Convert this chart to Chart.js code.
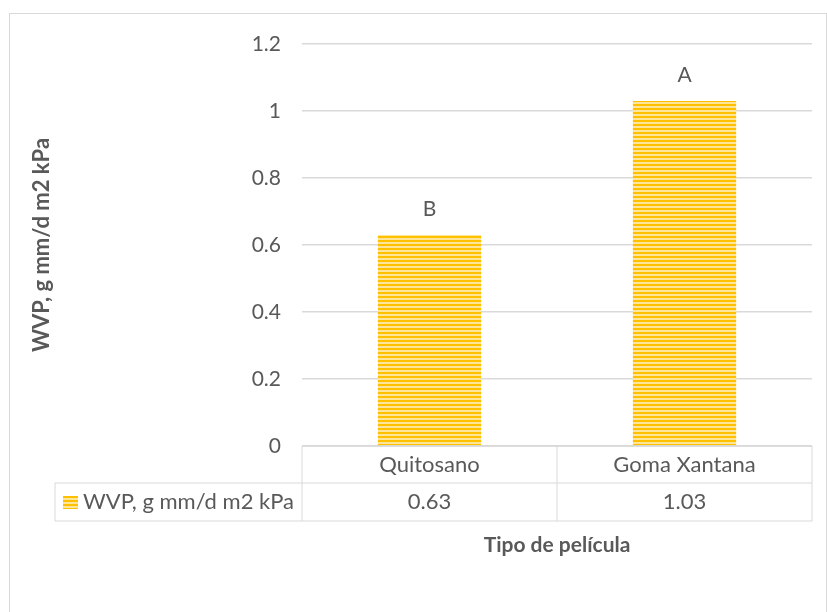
<!DOCTYPE html>
<html>
<head>
<meta charset="utf-8">
<script src="https://cdn.jsdelivr.net/npm/chart.js@4.4.1/dist/chart.umd.min.js"></script>
<style>
  html, body { margin: 0; padding: 0; background: #fff; }
  #wrap { width: 827px; height: 612px; }
</style>
</head>
<body>
<div id="wrap"><canvas id="c" width="827" height="612"></canvas></div>
<script>
// ---- data ----
const categories = ['Quitosano', 'Goma Xantana'];
const values = [0.63, 1.03];
const letters = ['B', 'A'];
const seriesName = 'WVP, g mm/d m2 kPa';
const yTitle = 'WVP, g mm/d m2 kPa';
const xTitle = 'Tipo de película';

const FONT = 'Lato, "Open Sans", sans-serif';
const SIZE = 21;
const GREY = '#595959';
const LINE = '#d9d9d9';

// striped fill like the Excel pattern
function stripes() {
  const p = document.createElement('canvas');
  p.width = 4; p.height = 4;
  const g = p.getContext('2d');
  g.fillStyle = '#ffe597'; g.fillRect(0, 0, 4, 4);
  g.fillStyle = '#ffc000'; g.fillRect(0, 0, 4, 2);
  return g.createPattern(p, 'repeat');
}
const fill = stripes();

// frame, letters above bars, data table under the axis
const extras = {
  id: 'extras',
  beforeDraw(chart) {
    const { ctx } = chart;
    ctx.save();
    ctx.strokeStyle = LINE; ctx.lineWidth = 1;
    ctx.strokeRect(9.5, 13.5, 817, 640);
    ctx.restore();
  },
  afterDatasetsDraw(chart) {
    const { ctx, chartArea: a } = chart;
    const x = chart.scales.x;
    const meta = chart.getDatasetMeta(0);
    ctx.save();
    ctx.font = SIZE + 'px ' + FONT;
    ctx.fillStyle = GREY;
    ctx.textAlign = 'center';
    ctx.textBaseline = 'middle';
    meta.data.forEach((bar, i) => ctx.fillText(letters[i], bar.x, bar.y - 26));

    // table
    const top = a.bottom, mid = top + 37, bot = mid + 38, legL = 55;
    const half = (x.getPixelForValue(1) - x.getPixelForValue(0)) / 2;
    ctx.strokeStyle = LINE;
    ctx.lineWidth = 1.5;
    ctx.beginPath();
    ctx.moveTo(a.left, top); ctx.lineTo(a.right, top);
    ctx.stroke();
    ctx.lineWidth = 1;
    ctx.beginPath();
    ctx.moveTo(legL, mid); ctx.lineTo(a.right, mid);
    ctx.moveTo(legL, bot); ctx.lineTo(a.right, bot);
    ctx.moveTo(legL, mid); ctx.lineTo(legL, bot);
    ctx.moveTo(a.left, top); ctx.lineTo(a.left, bot);
    categories.forEach((c, i) => {
      const r = x.getPixelForValue(i) + half;
      ctx.moveTo(r, top); ctx.lineTo(r, bot);
    });
    ctx.stroke();

    ctx.font = '22px ' + FONT;
    categories.forEach((c, i) => {
      const cx = x.getPixelForValue(i);
      ctx.fillText(c, cx, (top + mid) / 2);
      ctx.fillText(String(values[i]), cx, (mid + bot) / 2);
    });
    // legend key
    ctx.fillStyle = fill;
    ctx.fillRect(63, mid + 13, 15, 13);
    ctx.fillStyle = GREY;
    ctx.textAlign = 'left';
    ctx.fillText(seriesName, 83, (mid + bot) / 2);
    ctx.restore();
  }
};

new Chart(document.getElementById('c'), {
  type: 'bar',
  data: {
    labels: categories,
    datasets: [{
      label: seriesName,
      data: values,
      backgroundColor: fill,
      borderWidth: 0,
      categoryPercentage: 1,
      barPercentage: 0.405
    }]
  },
  options: {
    responsive: false,
    animation: false,
    layout: { padding: { left: 0, top: 44, right: 15, bottom: 0 } },
    plugins: { legend: { display: false }, tooltip: { enabled: false } },
    scales: {
      x: {
        ticks: { display: false },
        grid: { display: false },
        border: { display: false },
        title: {
          display: true, text: xTitle, color: GREY,
          font: { family: FONT, size: 21, weight: 'bold' },
          padding: { top: 0, bottom: 54 }
        },
        afterFit(s) { s.height = 166; }
      },
      y: {
        min: 0, max: 1.2,
        ticks: {
          stepSize: 0.2, color: GREY, padding: 21,
          font: { family: FONT, size: SIZE },
          callback: v => String(Math.round(v * 10) / 10)
        },
        grid: { color: LINE, lineWidth: 1.5, drawTicks: false },
        border: { display: false },
        title: {
          display: true, text: yTitle, color: GREY,
          font: { family: FONT, size: 22, weight: 'bold' },
          padding: { top: 29, bottom: 0 }
        },
        afterFit(s) { s.width = 302; }
      }
    }
  },
  plugins: [extras]
});
</script>
</body>
</html>
